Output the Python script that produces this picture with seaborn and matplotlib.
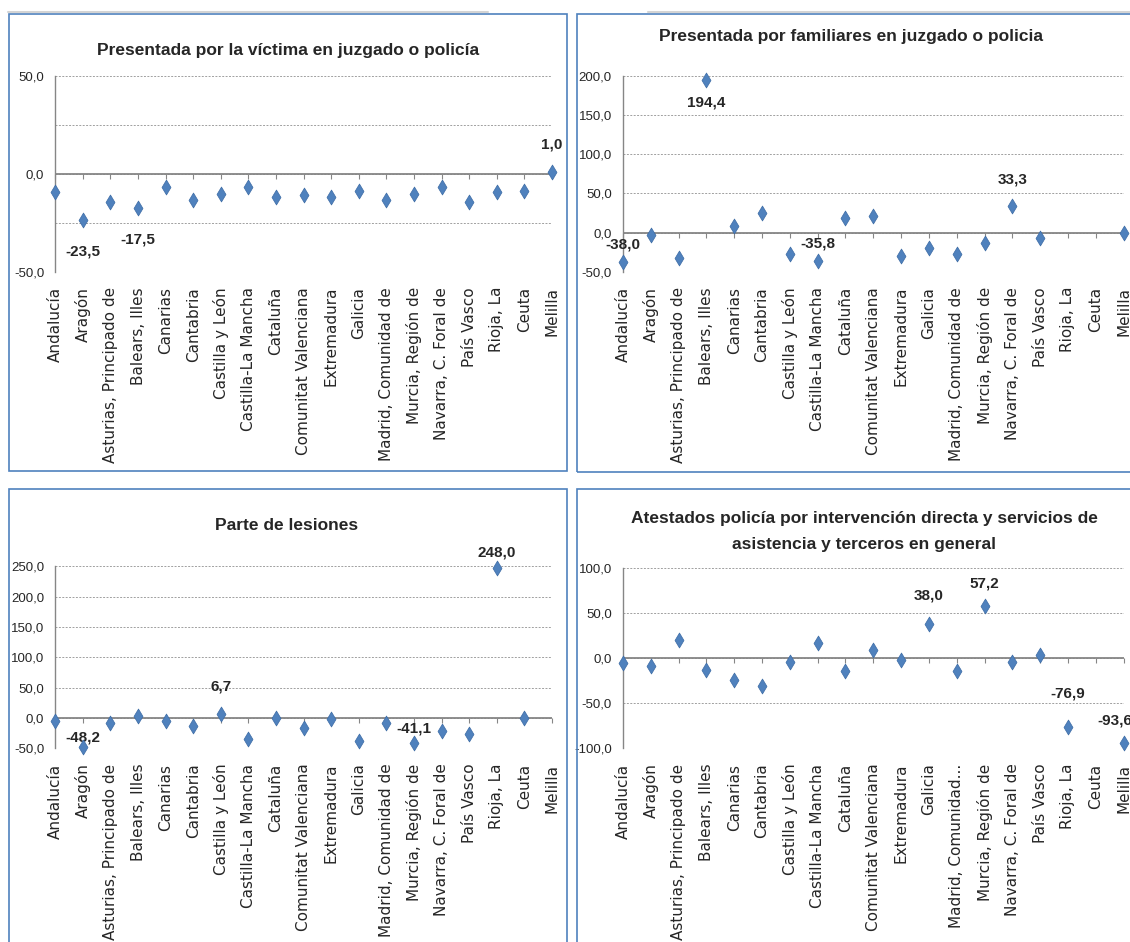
import numpy as np
import pandas as pd
import seaborn as sns
import matplotlib.pyplot as plt
from matplotlib.patches import Rectangle
from matplotlib.lines import Line2D
from matplotlib.ticker import MultipleLocator, FuncFormatter

# Data (variación %)
regiones = ["Andalucía", "Aragón", "Asturias, Principado de", "Balears, Illes",
            "Canarias", "Cantabria", "Castilla y León", "Castilla-La Mancha",
            "Cataluña", "Comunitat Valenciana", "Extremadura", "Galicia",
            "Madrid, Comunidad de", "Murcia, Región de", "Navarra, C. Foral de",
            "País Vasco", "Rioja, La", "Ceuta", "Melilla"]
regiones_corto = regiones[:12] + ["Madrid, Comunidad..."] + regiones[13:]

victima = [-9.2, -23.5, -14.2, -17.5, -6.8, -13.4, -10.2, -6.9, -11.9, -11.0,
           -11.9, -8.5, -13.4, -10.2, -6.8, -14.2, -9.2, -8.5, 1.0]
familiares = [-38.0, -3.0, -32.0, 194.4, 8.1, 25.2, -27.8, -35.8, 18.4, 20.9,
              -29.9, -19.2, -27.8, -13.2, 33.3, -6.8, np.nan, np.nan, 0.0]
lesiones = [-4.4, -48.2, -7.7, 3.3, -4.4, -13.2, 6.7, -34.7, 0.5, -16.0,
            -2.2, -37.4, -7.7, -41.1, -20.9, -26.4, 248.0, 0.5, np.nan]
atestados = [-5.5, -9.2, 19.9, -12.9, -24.4, -31.4, -4.1, 16.2, -14.8, 8.9,
             -2.2, 38.0, -14.8, 57.2, -4.1, 3.3, -76.9, np.nan, -93.6]

titulos = ["Presentada por la víctima en juzgado o policía",
           "Presentada por familiares en juzgado o policia",
           "Parte de lesiones",
           "Atestados policía por intervención directa y servicios de\nasistencia y terceros en general"]

df = pd.DataFrame({"region": regiones, "pos": np.arange(len(regiones)),
                   "victima": victima, "familiares": familiares,
                   "lesiones": lesiones, "atestados": atestados})

W, H = 1130, 942
BLUE = "#4F81BD"
GREY = "#868686"

sns.set_style("white")
plt.rcParams["font.family"] = ["Liberation Sans", "DejaVu Sans"]

fig = plt.figure(figsize=(W / 100, H / 100), dpi=100)
fig.patch.set_facecolor("white")


def px_rect(x0, y0, x1, y1):
    return [x0 / W, 1 - y1 / H, (x1 - x0) / W, (y1 - y0) / H]


# panel borders
for (x0, y0, x1, y1) in [(8.5, 13.5, 566.5, 471), (577, 13.5, 1145, 472),
                         (8.5, 489, 566.5, 960), (577, 489, 1145, 960)]:
    fig.add_artist(Rectangle((x0 / W, 1 - y1 / H), (x1 - x0) / W, (y1 - y0) / H,
                             transform=fig.transFigure, fill=False,
                             ec=BLUE, lw=1.2))
for (x0, x1) in [(8, 488), (648, 1130)]:
    fig.add_artist(Line2D([x0 / W, x1 / W], [1 - 11.5 / H] * 2,
                          transform=fig.transFigure, color="#D4D4D4", lw=1.5))

paneles = [
    # column, title centre, axes box, ylim, minor step, labels {index: (dx, dy) px}, tick labels
    ("victima", (288, 50), (55.3, 76.3, 552, 271.7), (-50, 50), 25,
     {1: (0, -32), 3: (0, -31), 18: (0, 28)}, regiones),
    ("familiares", (851, 37), (622.9, 76, 1123.6, 271.7), (-50, 200), 50,
     {0: (0, 18), 3: (0, -22), 7: (0, 17), 14: (0, 27)}, regiones),
    ("lesiones", (287, 525), (55.3, 566.3, 552, 748.3), (-50, 250), 50,
     {1: (0, 10), 6: (0, 27), 13: (0, 14), 16: (0, 15)}, regiones),
    ("atestados", (864, 531.5), (622.9, 567.7, 1123.6, 748.3), (-100, 100), 50,
     {11: (0, 28), 13: (0, 23), 16: (0, 34), 18: (-9, 22)}, regiones_corto),
]

fmt = FuncFormatter(lambda v, p: f"{v:.1f}".replace(".", ","))

for k, (col, (tx, ty), box, ylim, minor, etiquetas, ticklabels) in enumerate(paneles):
    ax = fig.add_axes(px_rect(*box))
    ax.set_facecolor("none")
    sns.scatterplot(data=df, x="pos", y=col, ax=ax, marker="d", s=58,
                    color=BLUE, edgecolor="#3C6BA5", linewidth=0.5,
                    clip_on=False, zorder=4, legend=False)
    ax.set_xlim(0, len(regiones) - 1)
    ax.set_ylim(*ylim)
    ax.set_xlabel("")
    ax.set_ylabel("")

    # y axis
    ax.yaxis.set_major_locator(MultipleLocator(50))
    ax.yaxis.set_minor_locator(MultipleLocator(minor))
    ax.yaxis.set_major_formatter(fmt)
    ax.grid(axis="y", which="both", color="#A0A0A0", lw=0.7,
            linestyle=(0, (2, 1.5)))
    ax.tick_params(axis="y", which="major", direction="out", length=3,
                   width=0.8, color=GREY, pad=5, labelsize=9.5)
    ax.tick_params(axis="y", which="minor", length=0)
    for s in ["top", "right", "bottom"]:
        ax.spines[s].set_visible(False)
    ax.spines["left"].set_color(GREY)
    ax.spines["left"].set_linewidth(1.0)
    ax.axhline(0, color=GREY, lw=1.3, zorder=2)

    # x labels at the bottom
    ax.set_xticks(df["pos"])
    ax.set_xticklabels(ticklabels, rotation=90, fontsize=11,
                       family="DejaVu Sans")
    ax.tick_params(axis="x", length=0, pad=11)

    # x tick marks on the zero line
    frac = (0 - ylim[0]) / (ylim[1] - ylim[0])
    sec = ax.secondary_xaxis(frac)
    sec.set_alignment("bottom")
    sec.set_xticks(df["pos"])
    sec.set_xticklabels([])
    sec.tick_params(axis="x", direction="out", length=3.8, width=0.8,
                    color=GREY)
    for s in sec.spines.values():
        s.set_visible(False)

    # data labels
    for i, (dx, dy) in etiquetas.items():
        v = df[col].iloc[i]
        ax.annotate(f"{v:.1f}".replace(".", ","), (i, v),
                    xytext=(dx * 0.72, dy * 0.72), textcoords="offset points",
                    ha="center", va="center", fontsize=11,
                    fontweight="bold", annotation_clip=False)

    # title
    fig.text(tx / W, 1 - ty / H, titulos[k], ha="center", va="center",
             fontsize=12.5, fontweight="bold", linespacing=2.0)

fig.savefig("out.png", dpi=100)
